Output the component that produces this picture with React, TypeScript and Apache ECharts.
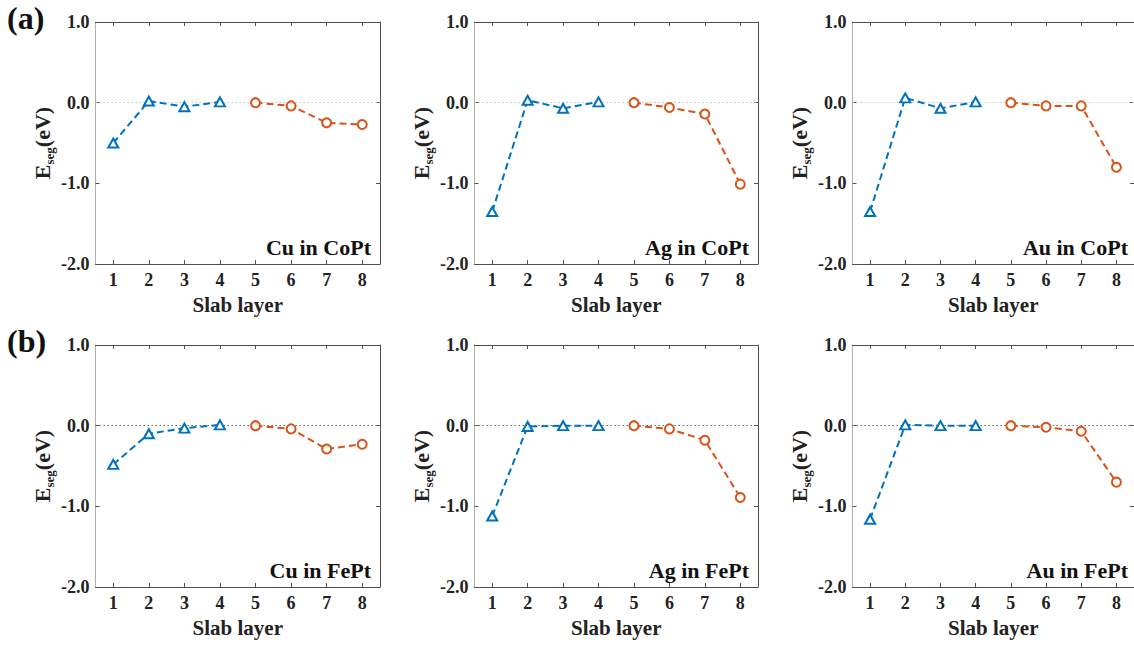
import React, { useEffect, useRef } from 'react';
import * as echarts from 'echarts';

// Slab layer categories (x axis)
const layers = ['1', '2', '3', '4', '5', '6', '7', '8'];

// Panel titles
const panelNames = ['Cu in CoPt', 'Ag in CoPt', 'Au in CoPt', 'Cu in FePt', 'Ag in FePt', 'Au in FePt'];

// E_seg (eV) – layers 1–4 (blue triangles) and layers 5–8 (orange circles)
const cuCoPtL1to4 = [-0.50, 0.02, -0.05, 0.01];
const cuCoPtL5to8 = [0.00, -0.04, -0.25, -0.27];
const agCoPtL1to4 = [-1.35, 0.03, -0.07, 0.01];
const agCoPtL5to8 = [0.00, -0.06, -0.14, -1.01];
const auCoPtL1to4 = [-1.35, 0.06, -0.07, 0.01];
const auCoPtL5to8 = [0.00, -0.04, -0.04, -0.80];
const cuFePtL1to4 = [-0.48, -0.10, -0.03, 0.01];
const cuFePtL5to8 = [0.00, -0.04, -0.29, -0.23];
const agFePtL1to4 = [-1.12, -0.01, 0.00, 0.00];
const agFePtL5to8 = [0.00, -0.04, -0.18, -0.89];
const auFePtL1to4 = [-1.16, 0.01, 0.00, 0.00];
const auFePtL5to8 = [0.00, -0.02, -0.07, -0.70];

const firstHalf = [cuCoPtL1to4, agCoPtL1to4, auCoPtL1to4, cuFePtL1to4, agFePtL1to4, auFePtL1to4];
const secondHalf = [cuCoPtL5to8, agCoPtL5to8, auCoPtL5to8, cuFePtL5to8, agFePtL5to8, auFePtL5to8];

const rowLabels = ['(a)', '(b)'];

const BLUE = '#0072BD';
const ORANGE = '#D95319';
const FONT = 'Liberation Serif, Times New Roman, serif';
const TXT = '#222222';
const AXIS = '#505050';

const cols = [
  { left: 95.5, width: 284.5 },
  { left: 474.5, width: 283.5 },
  { left: 852.5, width: 284.5 },
];
const rows = [
  { top: 22, height: 242, zeroColor: '#c4c4c4' },
  { top: 345, height: 242, zeroColor: '#6a6a6a' },
];

export default function App() {
  const ref = useRef<HTMLDivElement>(null);

  useEffect(() => {
    if (!ref.current) return;
    const chart = echarts.init(ref.current, undefined, { renderer: 'svg' });

    const grids: any[] = [];
    const xAxes: any[] = [];
    const yAxes: any[] = [];
    const series: any[] = [];
    const graphics: any[] = [];

    for (let p = 0; p < 6; p++) {
      const r = rows[Math.floor(p / 3)];
      const c = cols[p % 3];
      grids.push({ left: c.left, top: r.top, width: c.width, height: r.height, containLabel: false });

      const tickStyle = { show: true, inside: true, length: 4, alignWithLabel: true, lineStyle: { color: AXIS, width: 1 } };
      xAxes.push({
        type: 'category',
        gridIndex: p,
        position: 'bottom',
        data: layers,
        boundaryGap: true,
        axisLine: { show: true, onZero: false, lineStyle: { color: AXIS, width: 1 } },
        axisTick: tickStyle,
        axisLabel: { show: true, margin: 7, fontFamily: FONT, fontWeight: 'bold', fontSize: 18, color: TXT, interval: 0 },
        splitLine: { show: false },
        name: 'Slab layer',
        nameLocation: 'middle',
        nameGap: 30,
        nameTextStyle: { fontFamily: FONT, fontWeight: 'bold', fontSize: 21, color: TXT },
      });
      xAxes.push({
        type: 'category',
        gridIndex: p,
        position: 'top',
        data: layers,
        boundaryGap: true,
        axisLine: { show: true, onZero: false, lineStyle: { color: AXIS, width: 1 } },
        axisTick: tickStyle,
        axisLabel: { show: false },
        splitLine: { show: false },
      });
      yAxes.push({
        type: 'value',
        gridIndex: p,
        position: 'left',
        min: -2,
        max: 1,
        interval: 1,
        axisLine: { show: true, onZero: false, lineStyle: { color: '#b0b0b0', width: 1 } },
        axisTick: { show: true, inside: true, length: 4, lineStyle: { color: AXIS, width: 1 } },
        axisLabel: {
          show: true,
          margin: 6,
          fontFamily: FONT,
          fontWeight: 'bold',
          fontSize: 18,
          color: TXT,
          formatter: (v: number) => v.toFixed(1),
        },
        splitLine: { show: false },
        name: '{e|E}{s|seg}{e|(eV)}',
        nameLocation: 'middle',
        nameRotate: 90,
        nameGap: 40,
        nameTextStyle: {
          rich: {
            e: { fontFamily: FONT, fontWeight: 'bold', fontSize: 22, color: TXT, lineHeight: 26, verticalAlign: 'middle' },
            s: { fontFamily: FONT, fontWeight: 'bold', fontSize: 13, color: TXT, verticalAlign: 'bottom' },
          },
        },
      });
      yAxes.push({
        type: 'value',
        gridIndex: p,
        position: 'right',
        min: -2,
        max: 1,
        interval: 1,
        axisLine: { show: true, onZero: false, lineStyle: { color: AXIS, width: 1 } },
        axisTick: { show: true, inside: true, length: 4, lineStyle: { color: AXIS, width: 1 } },
        axisLabel: { show: false },
        splitLine: { show: false },
      });

      series.push({
        type: 'line',
        xAxisIndex: 2 * p,
        yAxisIndex: 2 * p,
        data: firstHalf[p].map((v, i) => [i, v]),
        symbol: 'emptyTriangle',
        symbolSize: [10, 9],
        showAllSymbol: true,
        lineStyle: { color: BLUE, width: 2, type: [7, 4] },
        itemStyle: { color: BLUE, borderWidth: 1.8 },
        z: 3,
        markLine: {
          silent: true,
          symbol: 'none',
          label: { show: false },
          lineStyle: { color: r.zeroColor, width: 1.2, type: [1.5, 2.5] },
          data: [{ yAxis: 0 }],
          z: 1,
        },
      });
      series.push({
        type: 'line',
        xAxisIndex: 2 * p,
        yAxisIndex: 2 * p,
        data: secondHalf[p].map((v, i) => [i + 4, v]),
        symbol: 'emptyCircle',
        symbolSize: 9,
        showAllSymbol: true,
        lineStyle: { color: ORANGE, width: 2, type: [7, 4] },
        itemStyle: { color: ORANGE, borderWidth: 1.8 },
        z: 3,
      });

      graphics.push({
        type: 'text',
        x: c.left + c.width - 9,
        y: r.top + r.height - 17,
        style: {
          text: panelNames[p],
          fontFamily: FONT,
          fontWeight: 'bold',
          fontSize: 22,
          fill: '#111',
          align: 'right',
          verticalAlign: 'middle',
        },
      });
    }

    graphics.push({
      type: 'text',
      x: 7,
      y: 18,
      style: { text: rowLabels[0], fontFamily: FONT, fontWeight: 'bold', fontSize: 32, fill: '#111', align: 'left', verticalAlign: 'middle' },
    });
    graphics.push({
      type: 'text',
      x: 7,
      y: 341,
      style: { text: rowLabels[1], fontFamily: FONT, fontWeight: 'bold', fontSize: 32, fill: '#111', align: 'left', verticalAlign: 'middle' },
    });

    chart.setOption({
      animation: false,
      backgroundColor: '#ffffff',
      grid: grids,
      xAxis: xAxes,
      yAxis: yAxes,
      series,
      graphic: graphics,
    });

    return () => chart.dispose();
  }, []);

  return (
    <div
      ref={ref}
      style={{ position: 'absolute', left: 0, top: 0, width: 1134, height: 645, background: '#fff' }}
    />
  );
}
